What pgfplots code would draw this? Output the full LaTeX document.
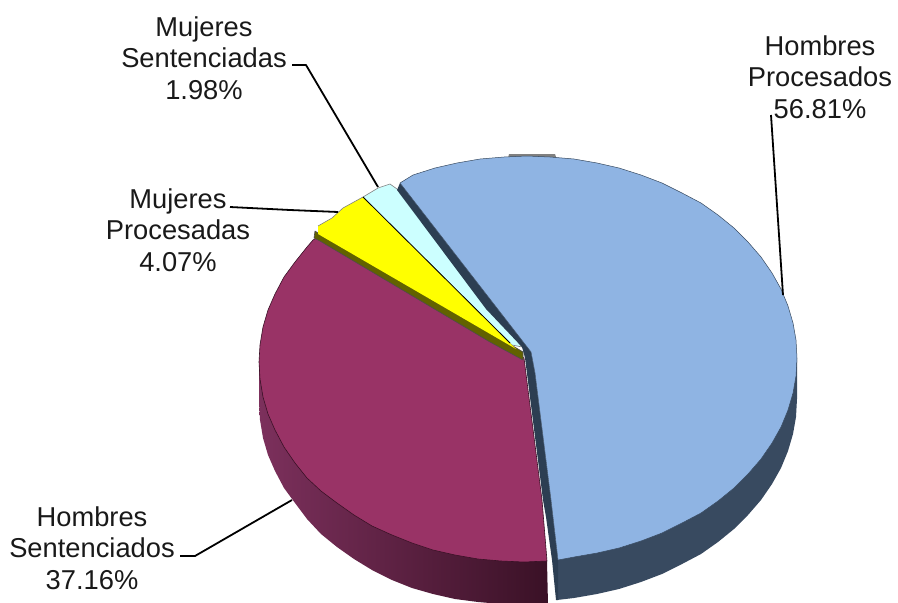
\documentclass[border=0pt]{standalone}
\usepackage{fontspec}
\setmainfont{Liberation Sans}
\usepackage{pgfplots}
\pgfplotsset{compat=1.18}
\definecolor{blueTop}{HTML}{8FB4E3}
\definecolor{blueSide}{HTML}{384A60}
\definecolor{blueEdge}{HTML}{2C3E52}
\definecolor{maroonTop}{HTML}{993366}
\definecolor{maroonL}{HTML}{7C305C}
\definecolor{maroonR}{HTML}{3A1126}
\definecolor{olive}{HTML}{626200}
\definecolor{sliceYellow}{HTML}{FFFF00}
\definecolor{paleCyan}{HTML}{CCFFFF}
\tikzset{
  lbl/.style={font=\fontsize{27.3bp}{31.5bp}\selectfont, align=center, inner sep=0pt, text=black!90},
  leader/.style={black, line width=1.8bp},
}
\begin{document}
\begin{tikzpicture}
\begin{axis}[
  hide axis, scale only axis,
  width=898bp, height=603bp,
  xmin=0, xmax=898, ymin=0, ymax=603,
  y dir=reverse,
  every axis plot/.append style={no markers, line join=round},
]
% keeps the page as large as the axis
\path (axis cs:0,0) rectangle (axis cs:898,603);
% maroon side
\addplot[draw=none, left color=maroonL, right color=maroonR] coordinates {
  (259,362) (259,403) (260,420) (263,438) (268,455) (275,471) (284,488) (295,503)
  (307,519) (321,534) (337,547) (354,559) (372,570) (392,580) (412,588) (433,594)
  (455,599) (478,602) (501,604) (524,605) (548,605) (547,561) (259,362)
};
% blue side
\addplot[draw=none, fill=blueSide] coordinates {
  (797,358) (797,399) (796,417) (793,434) (788,451) (781,468) (772,484) (761,500)
  (748,515) (734,529) (718,542) (701,554) (682,564) (662,574) (641,582) (619,589)
  (597,594) (574,598) (557,600) (557,559) (797,358)
};
% bit of the back wall above the blue slice
\addplot[draw=none, fill=gray] coordinates {(508,158) (509,154) (555,154) (557,160) (508,158)};
% maroon top
\addplot[draw=maroonR, line width=0.6bp, fill=maroonTop] coordinates {
  (524,358) (320,236) (313,240) (307,247) (295,262) (284,277) (275,294) (268,310)
  (263,327) (260,345) (259,362) (260,379) (263,397) (268,414) (275,430) (284,447)
  (295,463) (307,478) (321,491) (337,503) (354,515) (372,526) (392,535) (412,543)
  (433,550) (455,555) (478,559) (501,561) (524,562) (547,561) (542,500) (524,358)
};
% pale cyan slice
\addplot[draw=gray, line width=0.6bp, fill=paleCyan] coordinates {
  (363,197) (378,188) (390,184) (397,189) (522,347) (512,345) (363,197)
};
% yellow slice wall
\addplot[draw=black!70, line width=0.6bp, fill=olive] coordinates {
  (315,231) (318,233) (518,349) (523,352) (523,360) (490,342) (320,241) (314,238) (315,231)
};
% yellow slice
\addplot[draw=none, fill=sliceYellow] coordinates {
  (318,226) (332,218) (343,208) (363,197) (516,349) (318,234) (318,226)
};
\addplot[gray, line width=0.6bp] coordinates {(318,226) (332,218) (343,208) (363,197)};
\addplot[black, line width=0.8bp] coordinates {(363,197) (510,343)};
% dark wall of the blue slice
\addplot[draw=none, fill=blueEdge] coordinates {
  (397,190) (400,183) (531,352) (535,373) (551,500) (558,560) (558,600) (556,600)
  (552,560) (546,517) (543,500) (525,358) (522,347) (486,309) (397,190)
};
% blue top
\addplot[draw=blueSide, line width=0.5bp, fill=blueTop] coordinates {
  (400,183) (413,175) (435,168) (457,163) (480,159) (504,157) (527,156) (550,157)
  (574,159) (597,163) (619,168) (641,175) (662,183) (682,193) (701,203) (718,215)
  (734,228) (748,242) (761,257) (772,273) (781,289) (788,306) (793,323) (796,340)
  (797,358) (796,376) (793,393) (788,410) (781,427) (772,443) (761,459) (748,474)
  (734,488) (718,501) (701,513) (682,523) (662,533) (641,541) (619,548) (597,553)
  (574,557) (558,560) (551,500) (535,373) (531,352) (400,183)
};
% leader lines
\addplot[leader] coordinates {(771,115) (783,295)};
\addplot[leader] coordinates {(292,65) (306,65) (378,187)};
\addplot[leader] coordinates {(230,207) (290,210) (338,212)};
\addplot[leader] coordinates {(180,556) (195,556) (292,500)};
% labels
\node[lbl] at (axis cs:820,77) {Hombres\\Procesados\\56.81\%};
\node[lbl] at (axis cs:204,58) {Mujeres\\Sentenciadas\\1.98\%};
\node[lbl] at (axis cs:178,230) {Mujeres\\Procesadas\\4.07\%};
\node[lbl] at (axis cs:92,548) {Hombres\\Sentenciados\\37.16\%};
\end{axis}
\end{tikzpicture}
\end{document}
